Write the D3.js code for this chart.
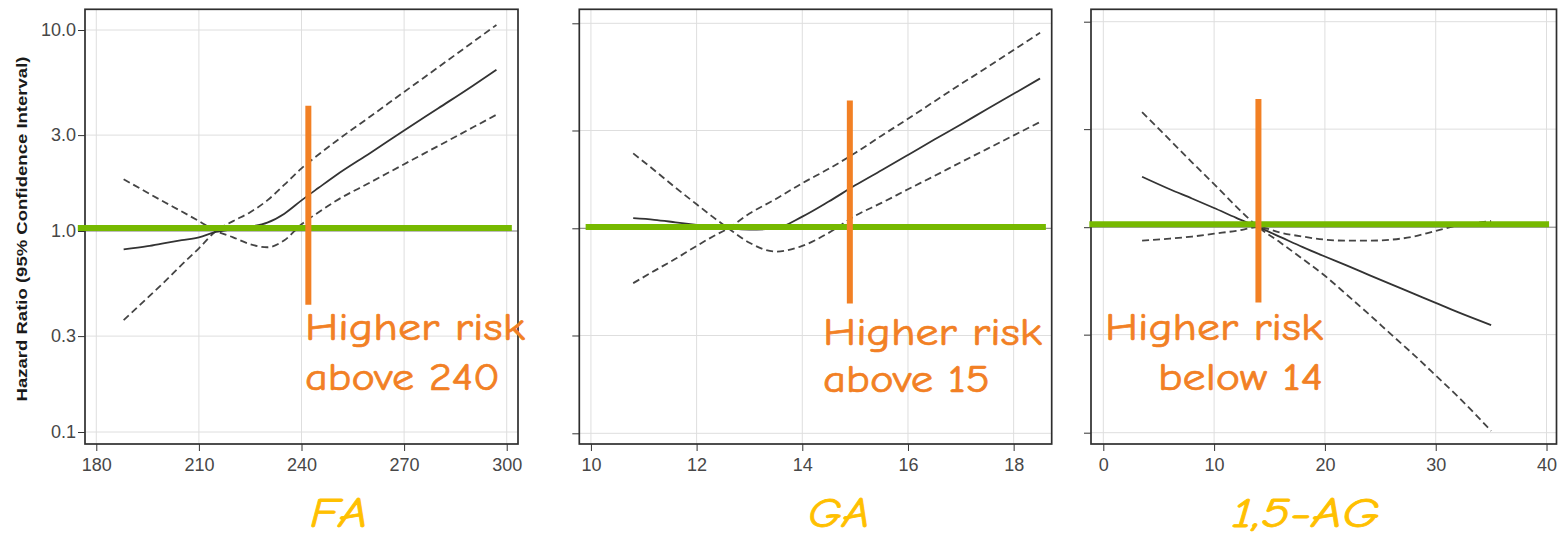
<!DOCTYPE html>
<html>
<head>
<meta charset="utf-8">
<script src="https://cdn.jsdelivr.net/npm/d3@7"></script>
<style>
  body { margin: 0; background: #fff; }
  svg { display: block; }
  .tick-label { font-family: 'Liberation Sans', Arial, sans-serif; font-size: 18px; fill: #474747; }
  .note { font-family: 'Comic Sans MS', 'Comic Neue', Lato, sans-serif; font-size: 39px; fill: #f28024; stroke: #f28024; stroke-width: 0.7px; }
  .marker { font-family: 'Comic Sans MS', 'Comic Neue', Lato, sans-serif; font-size: 42px; font-style: italic; fill: #ffc000; stroke: #ffc000; stroke-width: 0.8px; }
</style>
</head>
<body>
<svg id="chart" width="1558" height="538"></svg>
<script>
// hazard ratio axis, shared by the three panels
const hrTicks = [0.1, 0.3, 1, 3, 10];
const hrTickLabels = ['0.1', '0.3', '1.0', '3.0', '10.0'];

// FA
const faTicks = [180, 210, 240, 270, 300];
const faX = [188, 195, 200, 205, 210, 215, 220, 225, 230, 235, 240, 245, 250, 260, 270, 280, 290, 297];
const faFit = [0.81, 0.84, 0.87, 0.9, 0.93, 0.99, 1.02, 1.05, 1.1, 1.22, 1.42, 1.64, 1.89, 2.44, 3.16, 4.08, 5.27, 6.35];
const faCiA = [1.81, 1.55, 1.39, 1.25, 1.12, 1.0, 0.93, 0.86, 0.83, 0.9, 1.08, 1.24, 1.41, 1.74, 2.15, 2.65, 3.27, 3.79];
const faCiB = [0.36, 0.465, 0.56, 0.68, 0.82, 1.0, 1.12, 1.24, 1.42, 1.7, 2.05, 2.4, 2.79, 3.7, 4.92, 6.53, 8.68, 10.6];

// GA
const gaTicks = [10, 12, 14, 16, 18];
const gaX = [10.8, 11.2, 11.6, 12.0, 12.3, 12.6, 13.0, 13.5, 14.0, 14.5, 15.0, 15.5, 16, 16.5, 17, 17.5, 18, 18.5];
const gaFit = [1.12, 1.1, 1.07, 1.04, 1.02, 1.0, 0.985, 1.0, 1.14, 1.35, 1.62, 1.92, 2.28, 2.71, 3.21, 3.82, 4.53, 5.38];
const gaCiA = [2.32, 1.92, 1.58, 1.31, 1.14, 1.0, 0.85, 0.77, 0.82, 0.95, 1.15, 1.33, 1.55, 1.8, 2.1, 2.44, 2.84, 3.3];
const gaCiB = [0.54, 0.62, 0.71, 0.82, 0.91, 1.0, 1.18, 1.39, 1.66, 1.95, 2.33, 2.83, 3.42, 4.16, 5.05, 6.1, 7.41, 9.0];

// 1,5-AG
const agTicks = [0, 10, 20, 30, 40];
const agX = [3.5, 6, 8, 10, 12, 14, 16, 18, 20, 22, 24, 26, 28, 30, 32, 35];
const agFit = [1.76, 1.53, 1.38, 1.24, 1.11, 1.0, 0.895, 0.8, 0.72, 0.65, 0.585, 0.527, 0.475, 0.428, 0.386, 0.334];
const agCiA = [3.63, 2.66, 2.07, 1.62, 1.26, 1.0, 0.84, 0.7, 0.58, 0.468, 0.376, 0.3, 0.24, 0.19, 0.15, 0.102];
const agCiB = [0.86, 0.88, 0.9, 0.93, 0.96, 1.0, 0.94, 0.9, 0.87, 0.86, 0.86, 0.87, 0.9, 0.96, 1.02, 1.07];

// annotations: cut-off values, threshold level and texts
const cutoffs = [242, 14.9, 14];
const cutoffSpan = [0.43, 4.2];
const thresholdLevels = [1.035, 1.015, 1.034];
const thresholdSpans = [[174.6, 301.5], [9.9, 18.61], [-1.26, 40.23]];
const noteTexts = [['Higher risk', 'above 240'], ['Higher risk', 'above 15'], ['Higher risk', 'below 14']];
const markerNames = ['FA', 'GA', '1,5-AG'];

const panels = [
  { x: faX, fit: faFit, ciA: faCiA, ciB: faCiB, ticks: faTicks, xDomain: [176.7, 303.3], left: 85, right: 518,
    yRange: [432, 30], yLabels: true,
    note: { x: 305, y: [340, 390], anchor: 'start', len: [220, 195] }, marker: { x: 339, len: 58 } },
  { x: gaX, fit: gaFit, ciA: gaCiA, ciB: gaCiB, ticks: gaTicks, xDomain: [9.78, 18.72], left: 579.3, right: 1051.7,
    yRange: [433.3, 23.3], yLabels: false,
    note: { x: 823, y: [345, 392], anchor: 'start', len: [219, 167] }, marker: { x: 839, len: 62 } },
  { x: agX, fit: agFit, ciA: agCiA, ciB: agCiB, ticks: agTicks, xDomain: [-1.11, 40.9], left: 1091, right: 1556.5,
    yRange: [432.7, 21.7], yLabels: false,
    note: { x: 1323, y: [340, 390], anchor: 'end', len: [218, 165] }, marker: { x: 1306, len: 148 } }
];

const frameTop = 9.3, frameBottom = 444;
const svg = d3.select('#chart');

panels.forEach((p, i) => {
  const x = d3.scaleLinear().domain(p.xDomain).range([p.left, p.right]);
  const y = d3.scaleLog().domain([0.1, 10]).range(p.yRange);
  const g = svg.append('g');

  // grid
  g.selectAll('line.vgrid').data(p.ticks).enter().append('line')
    .attr('x1', (d) => x(d)).attr('x2', (d) => x(d))
    .attr('y1', frameTop).attr('y2', frameBottom)
    .attr('stroke', '#dedede').attr('stroke-width', 1);
  g.selectAll('line.hgrid').data(hrTicks).enter().append('line')
    .attr('x1', p.left).attr('x2', p.right)
    .attr('y1', (d) => y(d)).attr('y2', (d) => y(d))
    .attr('stroke', (d) => (d === 1 ? '#7a7a7a' : '#dedede')).attr('stroke-width', 1);

  // frame
  g.append('rect')
    .attr('x', p.left).attr('y', frameTop)
    .attr('width', p.right - p.left).attr('height', frameBottom - frameTop)
    .attr('fill', 'none').attr('stroke', '#2e2e2e').attr('stroke-width', 1.7);

  // x axis
  const xAxis = g.append('g')
    .attr('transform', 'translate(0,' + frameBottom + ')')
    .call(d3.axisBottom(x).tickValues(p.ticks).tickSize(7).tickPadding(7).tickFormat(d3.format('d')));
  xAxis.select('.domain').remove();
  xAxis.selectAll('line').attr('stroke', '#333');
  xAxis.selectAll('text').attr('class', 'tick-label').attr('fill', null);

  // y axis
  const yAxis = g.append('g')
    .attr('transform', 'translate(' + p.left + ',0)')
    .call(d3.axisLeft(y).tickValues(hrTicks).tickSize(7).tickPadding(2)
      .tickFormat((d, k) => (p.yLabels ? hrTickLabels[k] : '')));
  yAxis.select('.domain').remove();
  yAxis.selectAll('line').attr('stroke', '#333');
  yAxis.selectAll('text').attr('class', 'tick-label').attr('fill', null);

  // fitted curve and confidence limits
  const line = d3.line()
    .x((d) => x(d[0]))
    .y((d) => y(d[1]))
    .curve(d3.curveMonotoneX);
  [p.ciA, p.ciB].forEach((ci) => {
    g.append('path')
      .attr('d', line(p.x.map((v, k) => [v, ci[k]])))
      .attr('fill', 'none').attr('stroke', '#444')
      .attr('stroke-width', 1.8).attr('stroke-dasharray', '7,4');
  });
  g.append('path')
    .attr('d', line(p.x.map((v, k) => [v, p.fit[k]])))
    .attr('fill', 'none').attr('stroke', '#333').attr('stroke-width', 1.8);

  // green threshold and orange cut-off
  g.append('line')
    .attr('x1', x(thresholdSpans[i][0])).attr('x2', x(thresholdSpans[i][1]))
    .attr('y1', y(thresholdLevels[i])).attr('y2', y(thresholdLevels[i]))
    .attr('stroke', '#76b900').attr('stroke-width', 6);
  g.append('line')
    .attr('x1', x(cutoffs[i])).attr('x2', x(cutoffs[i]))
    .attr('y1', y(cutoffSpan[1])).attr('y2', y(cutoffSpan[0]))
    .attr('stroke', '#f28024').attr('stroke-width', 6);

  // notes
  noteTexts[i].forEach((t, k) => {
    g.append('text')
      .attr('class', 'note')
      .attr('x', p.note.x).attr('y', p.note.y[k])
      .attr('text-anchor', p.note.anchor)
      .attr('textLength', p.note.len[k])
      .attr('lengthAdjust', 'spacingAndGlyphs')
      .text(t);
  });
  g.append('text')
    .attr('class', 'marker')
    .attr('x', p.marker.x).attr('y', 527)
    .attr('text-anchor', 'middle')
    .attr('textLength', p.marker.len)
    .attr('lengthAdjust', 'spacingAndGlyphs')
    .text(markerNames[i]);
});

// y axis title
svg.append('text')
  .attr('transform', 'translate(27,229) rotate(-90)')
  .attr('text-anchor', 'middle')
  .attr('textLength', 345)
  .attr('lengthAdjust', 'spacingAndGlyphs')
  .style('font-family', "'Liberation Sans', Arial, sans-serif")
  .style('font-size', '15px')
  .style('font-weight', 'bold')
  .attr('fill', '#1a1a1a')
  .text('Hazard Ratio (95% Confidence Interval)');
</script>
</body>
</html>
